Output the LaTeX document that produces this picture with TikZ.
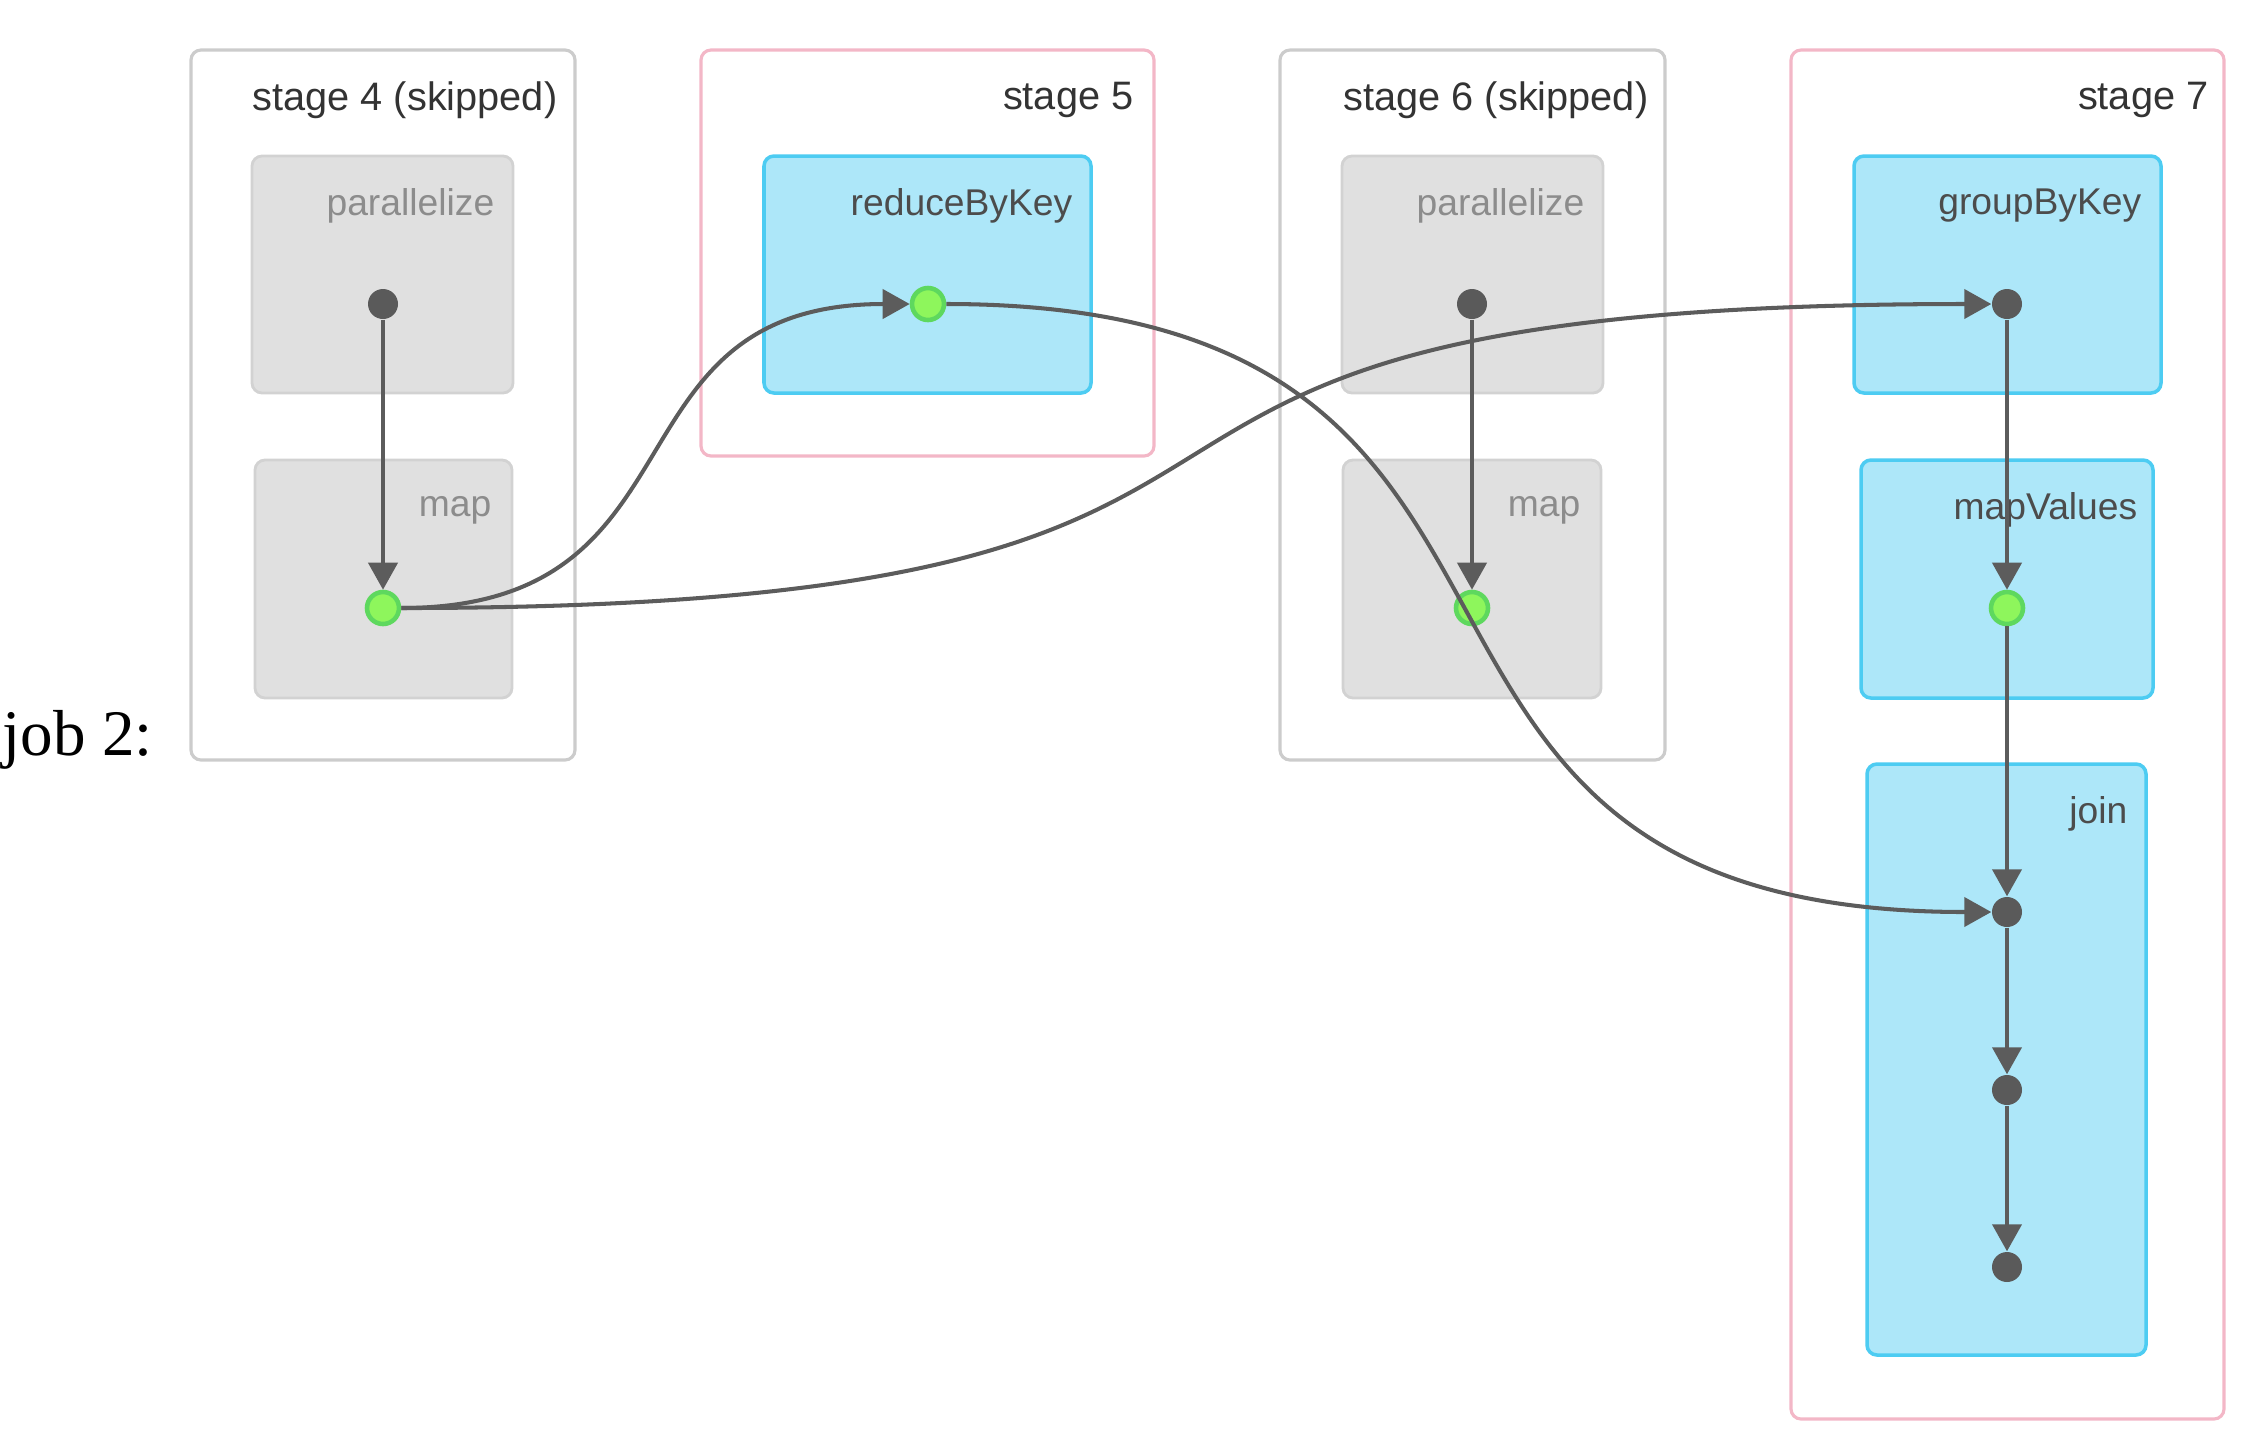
\documentclass[tikz,border=0pt]{standalone}
\usepackage{fontspec}
\setmainfont{Liberation Sans}
\newfontfamily\jobfont{Liberation Serif}
\usepackage{xcolor}
\usetikzlibrary{arrows.meta}

\definecolor{skipline}{HTML}{CCCCCC}
\definecolor{stageline}{HTML}{F3B7C7}
\definecolor{opgray}{HTML}{E0E0E0}
\definecolor{opgrayline}{HTML}{D2D2D2}
\definecolor{opblue}{HTML}{ADE7F9}
\definecolor{opblueline}{HTML}{4DCCF2}
\definecolor{dotgray}{HTML}{5A5A5A}
\definecolor{dotgreen}{HTML}{8EF65C}
\definecolor{dotgreenline}{HTML}{5ED85E}
\definecolor{edgegray}{HTML}{5C5C5C}

\tikzset{
  box/.style={inner sep=0pt, outer sep=0pt, rounded corners=0.1cm},
  skipstage/.style={box, draw=skipline, line width=0.9pt, fill=white},
  livestage/.style={box, draw=stageline, line width=0.9pt, fill=white},
  skipop/.style={box, draw=opgrayline, line width=0.8pt, fill=opgray},
  liveop/.style={box, draw=opblueline, line width=1pt, fill=opblue},
  stagelabel/.style={anchor=east, inner sep=0pt, text=black!80, font=\fontsize{11.3}{13}\selectfont},
  oplabel/.style={anchor=east, inner sep=0pt, font=\fontsize{10.6}{12}\selectfont},
  opdot/.style={circle, fill=dotgray, inner sep=0pt, minimum size=0.30cm},
  cachedot/.style={circle, fill=dotgreen, draw=dotgreenline, line width=1.3pt, inner sep=0pt, minimum size=0.32cm},
  flow/.style={draw=edgegray, line width=1.15pt, -{Triangle[length=0.27cm, width=0.29cm]}}
}

\begin{document}
\begin{tikzpicture}
  \useasboundingbox (0,0) rectangle (22.48,-14.54);

  % job title
  \node[anchor=west, inner sep=0pt, font=\jobfont\fontsize{18.5}{20}\selectfont] (job) at (0.02,-7.40) {job 2:};

  % stage 4 (skipped)
  \node[skipstage, minimum width=3.84cm, minimum height=7.10cm] (st4) at (3.83,-4.05) {};
  \node[stagelabel] (st4label) at ([xshift=-0.17cm, yshift=-0.50cm]st4.north east) {stage 4 (skipped)};
  \node[skipop, minimum width=2.61cm, minimum height=2.37cm] (par4) at (3.825,-2.745) {};
  \node[oplabel, text=black!45] at ([xshift=-0.18cm, yshift=-0.50cm]par4.north east) {parallelize};
  \node[skipop, minimum width=2.57cm, minimum height=2.38cm] (map4) at (3.835,-5.79) {};
  \node[oplabel, text=black!45] at ([xshift=-0.20cm, yshift=-0.50cm]map4.north east) {map};

  % stage 5
  \node[livestage, minimum width=4.53cm, minimum height=4.06cm] (st5) at (9.275,-2.53) {};
  \node[stagelabel] (st5label) at ([xshift=-0.20cm, yshift=-0.50cm]st5.north east) {stage 5};
  \node[liveop, minimum width=3.27cm, minimum height=2.37cm] (rbk) at (9.275,-2.745) {};
  \node[oplabel, text=black!70] at ([xshift=-0.18cm, yshift=-0.50cm]rbk.north east) {reduceByKey};

  % stage 6 (skipped)
  \node[skipstage, minimum width=3.85cm, minimum height=7.10cm] (st6) at (14.725,-4.05) {};
  \node[stagelabel] (st6label) at ([xshift=-0.16cm, yshift=-0.50cm]st6.north east) {stage 6 (skipped)};
  \node[skipop, minimum width=2.61cm, minimum height=2.37cm] (par6) at (14.725,-2.745) {};
  \node[oplabel, text=black!45] at ([xshift=-0.18cm, yshift=-0.50cm]par6.north east) {parallelize};
  \node[skipop, minimum width=2.58cm, minimum height=2.38cm] (map6) at (14.72,-5.79) {};
  \node[oplabel, text=black!45] at ([xshift=-0.20cm, yshift=-0.50cm]map6.north east) {map};

  % stage 7
  \node[livestage, minimum width=4.33cm, minimum height=13.69cm] (st7) at (20.075,-7.345) {};
  \node[stagelabel] (st7label) at ([xshift=-0.15cm, yshift=-0.50cm]st7.north east) {stage 7};
  \node[liveop, minimum width=3.07cm, minimum height=2.37cm] (gbk) at (20.075,-2.745) {};
  \node[oplabel, text=black!70] at ([xshift=-0.19cm, yshift=-0.50cm]gbk.north east) {groupByKey};
  \node[liveop, minimum width=2.92cm, minimum height=2.38cm] (mv) at (20.07,-5.79) {};
  \node[oplabel, text=black!70] at ([xshift=-0.15cm, yshift=-0.50cm]mv.north east) {mapValues};
  \node[liveop, minimum width=2.79cm, minimum height=5.91cm] (join) at (20.065,-10.595) {};
  \node[oplabel, text=black!70] at ([xshift=-0.18cm, yshift=-0.50cm]join.north east) {join};

  % operation dots
  \node[opdot] (d-par4) at (3.83,-3.04) {};
  \node[cachedot] (d-map4) at (3.83,-6.08) {};
  \node[cachedot] (d-rbk) at (9.28,-3.04) {};
  \node[opdot] (d-par6) at (14.72,-3.04) {};
  \node[cachedot] (d-map6) at (14.72,-6.08) {};
  \node[opdot] (d-gbk) at (20.07,-3.04) {};
  \node[cachedot] (d-mv) at (20.07,-6.08) {};
  \node[opdot] (d-j1) at (20.07,-9.12) {};
  \node[opdot] (d-j2) at (20.07,-10.90) {};
  \node[opdot] (d-j3) at (20.07,-12.67) {};

  % edges
  \draw[flow] (d-par4) -- (d-map4);
  \draw[flow] (d-par6) -- (d-map6);
  \draw[flow] (d-map4) .. controls +(3.3,0) and +(-3.3,0) .. (d-rbk);
  \draw[flow] (d-map4) .. controls +(11,0) and +(-11,0) .. (d-gbk);
  \draw[flow] (d-rbk) .. controls +(7.15,0) and +(-7.15,0) .. (d-j1);
  \draw[flow] (d-gbk) -- (d-mv);
  \draw[flow] (d-mv) -- (d-j1);
  \draw[flow] (d-j1) -- (d-j2);
  \draw[flow] (d-j2) -- (d-j3);
\end{tikzpicture}
\end{document}
